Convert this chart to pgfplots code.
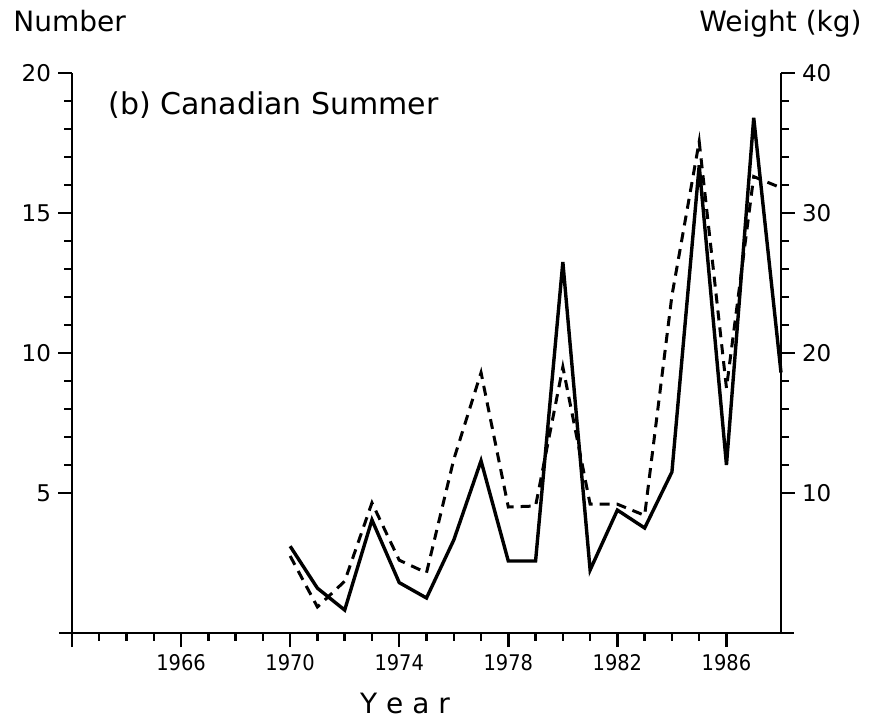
\documentclass[border=0pt]{standalone}
\usepackage{pgfplots}
\pgfplotsset{compat=1.18}
\usepackage{fontspec}
\setmainfont{DejaVu Sans}
\newfontfamily\cond{DejaVu Sans Condensed}
\begin{document}
\begin{tikzpicture}
\useasboundingbox (-36pt,-45pt) rectangle (403pt,316.5pt);
\pgfplotsset{
  common/.style={
    width=354.5pt, height=280pt, scale only axis,
    xmin=1962, xmax=1988,
    tick align=outside,
    major tick length=7pt, minor tick length=3.8pt,
    axis line style={-, line width=1.4pt},
    tick style={line width=1.2pt, black},
    /pgf/number format/assume math mode=true,
    /pgf/number format/set thousands separator={},
    y tick label style={font=\fontsize{11.5}{13}\selectfont},
    clip=false,
  }
}
\begin{axis}[common,
  ymin=0, ymax=20,
  axis x line*=bottom, axis y line*=left,
  x axis line style={shorten <=-6.5pt, shorten >=-6.5pt},
  xtick={1962,1966,1970,1974,1978,1982,1986},
  xticklabels={,1966,1970,1974,1978,1982,1986},
  minor x tick num=3,
  x tick label style={font=\cond\fontsize{10.8}{12}\selectfont},
  ytick={5,10,15,20},
  minor y tick num=4,
]
\addplot[black, line width=1.7pt, line join=miter] coordinates {
(1970,3.1) (1971,1.6) (1972,0.82) (1973,4.04) (1974,1.8) (1975,1.25)
(1976,3.32) (1977,6.15) (1978,2.57) (1979,2.57) (1980,13.25) (1981,2.25)
(1982,4.39) (1983,3.75) (1984,5.75) (1985,16.7) (1986,6.0) (1987,18.4) (1988,9.3)
};
\end{axis}
\begin{axis}[common,
  ymin=0, ymax=40,
  axis x line=none, axis y line*=right,
  ytick={10,20,30,40},
  minor y tick num=4,
]
\addplot[black, line width=1.5pt, dash pattern=on 5pt off 3.5pt] coordinates {
(1970,5.5) (1971,1.86) (1972,3.7) (1973,9.3) (1974,5.2) (1975,4.3)
(1976,12.4) (1977,18.6) (1978,9.0) (1979,9.07) (1980,19.0) (1981,9.2)
(1982,9.2) (1983,8.4) (1984,24.1) (1985,35.1) (1986,17.5) (1987,32.6) (1988,31.8)
};
\end{axis}
\node[anchor=base west, inner sep=0pt, font=\fontsize{14}{16}\selectfont] at (-29.5pt,300.5pt) {Number};
\node[anchor=base east, inner sep=0pt, font=\fontsize{14}{16}\selectfont] at (395pt,300.5pt) {Weight (kg)};
\node[anchor=base west, inner sep=0pt, font=\fontsize{15}{17}\selectfont] at (18pt,259pt) {(b) Canadian Summer};
\node[anchor=base, inner sep=0pt, font=\fontsize{14}{16}\selectfont] at (166.5pt,-40pt) {Y e a r};
\end{tikzpicture}
\end{document}
